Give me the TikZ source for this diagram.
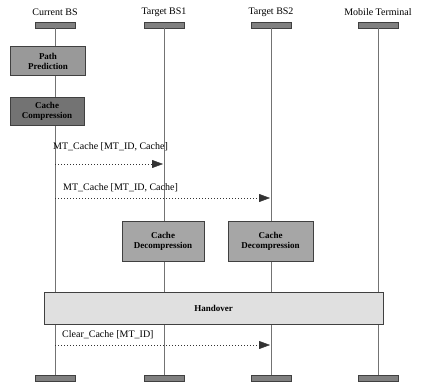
\documentclass[tikz,border=0pt]{standalone}
\usepackage{fontspec}
\setmainfont{Liberation Serif}
\usetikzlibrary{arrows.meta}

\tikzset{
  headbox/.style={draw=black!75,fill=black!50,minimum width=40pt,minimum height=6pt,inner sep=0pt},
  actbox/.style={draw=black!75,fill=#1,font=\bfseries\fontsize{9}{10}\selectfont,align=center,inner sep=1pt},
  msg/.style={dash pattern=on 1pt off 2pt,black!80,-{Triangle[length=11pt,width=8pt]}},
  life/.style={black!55,thin},
  lbl/.style={right,inner sep=0pt,font=\fontsize{10}{12}\selectfont}
}

\begin{document}
\begin{tikzpicture}[x=1pt,y=-1pt]
\useasboundingbox (0,0) rectangle (425,382);
% instances
\node[font=\fontsize{10}{12}\selectfont] (tCur) at (55,12) {Current BS};
\node[font=\fontsize{10}{12}\selectfont] (tBSa) at (164,12) {Target BS1};
\node[font=\fontsize{10}{12}\selectfont] (tBSb) at (271,12) {Target BS2};
\node[font=\fontsize{10}{12}\selectfont] (tMT) at (378,12) {Mobile Terminal};
\node[headbox] (hCur) at (55,25) {}; \node[headbox] (hBSa) at (164,25) {};
\node[headbox] (hBSb) at (271,25) {}; \node[headbox] (hMT) at (378,25) {};
\node[headbox] (eCur) at (55,378) {}; \node[headbox] (eBSa) at (164,378) {};
\node[headbox] (eBSb) at (271,378) {}; \node[headbox] (eMT) at (378,378) {};
\draw[life] (hCur)--(eCur); \draw[life] (hBSa)--(eBSa);
\draw[life] (hBSb)--(eBSb); \draw[life] (hMT)--(eMT);
% actions
\node[actbox=black!40,minimum width=75pt,minimum height=29pt] (pred) at (48,61) {Path\\Prediction};
\node[actbox=black!55,minimum width=74pt,minimum height=28pt] (comp) at (47,111) {Cache\\Compression};
\node[actbox=black!35,minimum width=82pt,minimum height=40pt] (decA) at (163,241) {Cache\\Decompression};
\node[actbox=black!35,minimum width=85pt,minimum height=40pt] (decB) at (270.5,241) {Cache\\Decompression};
\node[actbox=black!12,minimum width=339pt,minimum height=32pt] (hand) at (213.5,308) {Handover};
% messages
\coordinate (m1s) at (55,164); \coordinate (m1e) at (163,164);
\coordinate (m2s) at (55,198); \coordinate (m2e) at (270,198);
\coordinate (m3s) at (55,345); \coordinate (m3e) at (270,345);
\draw[msg] (m1s)--(m1e); \draw[msg] (m2s)--(m2e); \draw[msg] (m3s)--(m3e);
\node[lbl] (l1) at (53,147) {MT\_Cache [MT\_ID, Cache]};
\node[lbl] (l2) at (63,188) {MT\_Cache [MT\_ID, Cache]};
\node[lbl] (l3) at (62,335) {Clear\_Cache [MT\_ID]};
\end{tikzpicture}
\end{document}
